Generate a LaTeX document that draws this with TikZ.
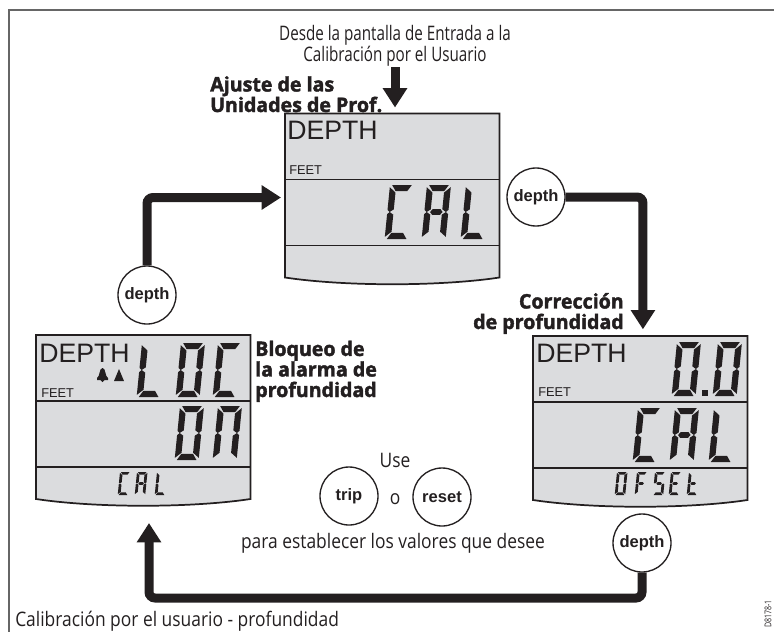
\documentclass[tikz,border=0pt]{standalone}
\usepackage{fontspec}
\usetikzlibrary{arrows.meta}
\setmainfont{Liberation Sans}
\newfontfamily\capfont[FakeStretch=0.76]{Open Sans}
\newfontfamily\widefont[FakeStretch=0.87]{Open Sans}
\newfontfamily\headfont[FakeStretch=0.98,FakeBold=2]{Open Sans Bold}
\definecolor{ink}{HTML}{231F20}
\definecolor{lcdgray}{HTML}{DBDCDE}
\definecolor{framegray}{HTML}{666666}
\tikzset{
	lcd/.style={anchor=north west, minimum width=160.5pt, minimum height=122.6pt, inner sep=0pt},
	lcdline/.style={draw=ink, line width=1.3pt, fill=lcdgray},
	btn/.style={draw=ink, fill=white, circle, line width=1pt, minimum size=43.5pt, inner sep=0pt, text=ink, font=\fontsize{12.4}{14}\selectfont\bfseries},
	flow/.style={draw=ink, line width=6.75pt, rounded corners=4.5pt, -{Triangle[length=14.5pt,width=17.5pt]}},
	caption/.style={inner sep=0pt, text=ink, font=\fontsize{15}{15.75}\selectfont\capfont},
	widecaption/.style={inner sep=0pt, text=ink, font=\fontsize{15}{15.75}\selectfont\widefont},
	heading/.style={inner sep=0pt, text=ink, font=\fontsize{15}{15.4}\selectfont\headfont},
	bigtext/.style={inner sep=0pt, anchor=base west, text=ink, font=\fontsize{20}{22}\selectfont},
	unittext/.style={inner sep=0pt, anchor=base west, text=ink, font=\fontsize{9.6}{11}\selectfont},
	glyph/.style={xslant=.1, xscale=2.4, yscale=2.7},
	smallglyph/.style={xslant=.1, xscale=1.05, yscale=1.15},
	seg a/.pic={\fill[ink] (.9,0) -- (9.1,0) -- (7.4,2.3) -- (2.6,2.3) -- cycle;},
	seg b/.pic={\fill[ink] (10,.8) -- (10,9.2) -- (9,10) -- (7.4,9) -- (7.4,2.8) -- cycle;},
	seg c/.pic={\fill[ink] (10,10.8) -- (10,19.2) -- (7.4,17.3) -- (7.4,11) -- (9,10) -- cycle;},
	seg d/.pic={\fill[ink] (2.6,17.7) -- (7.4,17.7) -- (9.1,20) -- (.9,20) -- cycle;},
	seg e/.pic={\fill[ink] (0,10.8) -- (1,10) -- (2.6,11) -- (2.6,17.3) -- (0,19.2) -- cycle;},
	seg f/.pic={\fill[ink] (0,.8) -- (2.6,2.8) -- (2.6,9) -- (1,10) -- (0,9.2) -- cycle;},
	seg g/.pic={\fill[ink] (2.4,10) -- (3.4,8.9) -- (6.6,8.9) -- (7.6,10) -- (6.6,11.1) -- (3.4,11.1) -- cycle;},
	seven/.pic={\foreach \s in {#1} {\pic[transform shape] {seg \s};}},
}
% outline of a display with its two dividers
\newcommand{\lcdbody}[1]{
	\draw[lcdline] (#1.south west) -- (#1.north west) -- (#1.north east) -- (#1.south east) .. controls +(-60,9) and +(60,9) .. (#1.south west) -- cycle;
	\draw[draw=ink, line width=1.3pt] (#1.north west) ++(0,66) -- ++(214,0);
	\draw[draw=ink, line width=1.3pt] (#1.north west) ++(0,132) -- ++(214,0);
}
\begin{document}
\begin{tikzpicture}[x=.75pt, y=-.75pt]
	\useasboundingbox (0,0) rectangle (774,632);
	\draw[framegray, line width=1.2pt] (774,10) -- (9,10) -- (9,632);

	% displays
	\node[lcd] at (285,113.5) (lcdTop) {};
	\node[lcd] at (36,335) (lcdLeft) {};
	\node[lcd] at (533,336) (lcdRight) {};
	\lcdbody{lcdTop}
	\lcdbody{lcdLeft}
	\lcdbody{lcdRight}

	% top display
	\node[bigtext] at (287,139) (depthTop) {DEPTH};
	\node[unittext] at (289,174) (feetTop) {FEET};
	\pic[glyph] at (390,185) {seven={a,d,e,f}};
	\pic[glyph] at (427,185) {seven={a,b,c,e,f,g}};
	\pic[glyph] at (466,185) {seven={d,e,f}};

	% left display
	\node[bigtext] at (39,362) (depthLeft) {DEPTH};
	\node[unittext] at (41,397) (feetLeft) {FEET};
	\fill[ink] (97,378) .. controls (100,377) and (99,368) .. (102.5,368) .. controls (106,368) and (105,377) .. (108,378) -- (108,380) -- (104.5,380) -- (102.5,382) -- (100.5,380) -- (97,380) -- cycle;
	\fill[ink] (114,381) -- (119,369) -- (124,381) -- cycle;
	\pic[glyph] at (142,343) {seven={d,e,f}};
	\pic[glyph] at (181,343) {seven={a,b,c,d,e,f}};
	\pic[glyph] at (218,343) {seven={a,d,e,f}};
	\pic[glyph] at (180,406) {seven={a,b,c,d,e,f}};
	\pic[glyph] at (218,406) {seven={a,b,c,e,f}};
	\pic[smallglyph] at (120,472) {seven={a,d,e,f}};
	\pic[smallglyph] at (137,472) {seven={a,b,c,e,f,g}};
	\pic[smallglyph] at (157,472) {seven={d,e,f}};

	% right display
	\node[bigtext] at (536,362) (depthRight) {DEPTH};
	\node[unittext] at (538,396) (feetRight) {FEET};
	\pic[glyph] at (677,342) {seven={a,b,c,d,e,f}};
	\pic[glyph] at (718,342) {seven={a,b,c,d,e,f}};
	\fill[ink] (702,390) rectangle (708,396);
	\pic[glyph] at (638,408) {seven={a,d,e,f}};
	\pic[glyph] at (675,408) {seven={a,b,c,e,f,g}};
	\pic[glyph] at (714,408) {seven={d,e,f}};
	\pic[smallglyph] at (617,472) {seven={a,b,c,d,e,f}};
	\pic[smallglyph] at (637,472) {seven={a,e,f,g}};
	\pic[smallglyph] at (655,472) {seven={a,c,d,f,g}};
	\pic[smallglyph] at (671,472) {seven={a,d,e,f,g}};
	\pic[smallglyph] at (689,472) {seven={d,e,f,g}};

	% buttons
	\node[btn] at (536,197) (btnTop) {depth};
	\node[btn] at (147,295) (btnLeft) {depth};
	\node[btn] at (642,543) (btnRight) {depth};
	\node[btn] at (349,496) (btnTrip) {trip};
	\node[btn] at (442,497) (btnReset) {reset};

	% texts
	\node[caption, align=center, anchor=south] at (395,67) (entry) {Desde la pantalla de Entrada a la\\Calibración por el Usuario};
	\node[heading, align=left, anchor=base west] at (210,112) (headTop) {Ajuste de las\\Unidades de Prof.};
	\node[heading, align=right, anchor=base east] at (624,329) (headRight) {Corrección\\de profundidad};
	\node[heading, align=left, anchor=base west] at (255,397) (headLeft) {Bloqueo de\\la alarma de\\profundidad};
	\node[widecaption] at (395,460) (useText) {Use};
	\node[widecaption] at (395,499) (orText) {o};
	\node[widecaption] at (393,543) (setText) {para establecer los valores que desee};
	\node[widecaption, anchor=base west] at (15,626) (title) {Calibración por el usuario - profundidad};
	\node[inner sep=0pt, text=ink, rotate=90, font=\fontsize{7}{8}\selectfont\capfont] at (768,614) (drawingNo) {D8178-1};

	% connectors
	\coordinate (turnBottom) at (149,598);
	\draw[flow, shorten >=4.5pt] (entry.south) -- (entry.south |- lcdTop.north);
	\draw[flow, shorten >=3pt] (btnLeft.north) |- ([yshift=-1.5pt]lcdTop.west);
	\draw[flow, shorten >=5pt] (btnTop.east) -| ([xshift=2pt]lcdRight.north);
	\draw[flow, shorten >=18pt] (btnRight.south) |- (turnBottom) -- (turnBottom |- lcdLeft.south);
\end{tikzpicture}
\end{document}
